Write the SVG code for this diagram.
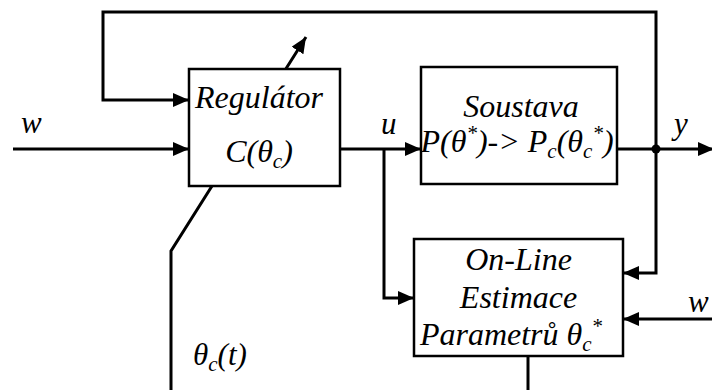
<svg xmlns="http://www.w3.org/2000/svg" width="712" height="390" viewBox="0 0 712 390">
<style>
.box{fill:#fff;stroke:#000;stroke-width:2.5}
.ln{fill:none;stroke:#000;stroke-width:3}
.t{font-family:'Liberation Serif','Times New Roman',serif;font-style:italic;font-size:32px;fill:#000}
.lb{font-family:'Liberation Serif','Times New Roman',serif;font-style:italic;font-size:31px;fill:#000}
.sub{font-size:21px}
</style>
<defs>
<marker id="ah" viewBox="0 0 16 14" refX="16" refY="7" markerWidth="16" markerHeight="14" markerUnits="userSpaceOnUse" orient="auto">
<path d="M0,0 L16,7 L0,14 Z" fill="#000"/>
</marker>
</defs>
<rect width="712" height="390" fill="#fff"/>
<g id="connectors">
<path class="ln" d="M656,149 V12 H103 V100 H189" marker-end="url(#ah)"/>
<path class="ln" d="M13,149 H189" marker-end="url(#ah)"/>
<path class="ln" d="M340,149 H421" marker-end="url(#ah)"/>
<path class="ln" d="M384,149 V298 H414" marker-end="url(#ah)"/>
<path class="ln" d="M617,149 H714" marker-end="url(#ah)"/>
<path class="ln" d="M656,149 V273 H623" marker-end="url(#ah)"/>
<path class="ln" d="M712,319 H623" marker-end="url(#ah)"/>
<path class="ln" d="M528,356 V390"/>
<path class="ln" d="M171,390 V251 L306,37" marker-end="url(#ah)"/>
<circle cx="656" cy="149" r="4.5" fill="#000"/>
</g>
<g id="regulator">
<rect class="box" x="189" y="69" width="151" height="117"/>
<text class="t" x="259" y="108" text-anchor="middle">Regulátor</text>
<text class="t" x="259" y="162" text-anchor="middle">C(θ<tspan class="sub" dy="6">c</tspan><tspan dy="-6">)</tspan></text>
</g>
<g id="soustava">
<rect class="box" x="421" y="67" width="196" height="117"/>
<text class="t" x="521" y="117" text-anchor="middle">Soustava</text>
<text class="t" x="517" y="152" text-anchor="middle">P(θ<tspan class="sub" dy="-12">*</tspan><tspan dy="12">)-&gt; P</tspan><tspan class="sub" dy="6">c</tspan><tspan dy="-6">(θ</tspan><tspan class="sub" dy="6">c</tspan><tspan class="sub" dy="-18">*</tspan><tspan dy="12">)</tspan></text>
</g>
<g id="estimator">
<rect class="box" x="414" y="239" width="209" height="117"/>
<text class="t" x="518.5" y="270" text-anchor="middle">On-Line</text>
<text class="t" x="518.5" y="308" text-anchor="middle">Estimace</text>
<text class="t" x="511" y="345" text-anchor="middle">Parametrů θ<tspan class="sub" dy="6">c</tspan><tspan class="sub" dy="-18">*</tspan></text>
</g>
<g id="labels">
<text class="lb" x="21" y="133">w</text>
<text class="lb" x="381" y="134">u</text>
<text class="lb" x="674" y="134">y</text>
<text class="lb" x="688" y="312">w</text>
<text class="lb" x="193" y="365">θ<tspan class="sub" dy="6">c</tspan><tspan dy="-6">(t)</tspan></text>
</g>
</svg>
